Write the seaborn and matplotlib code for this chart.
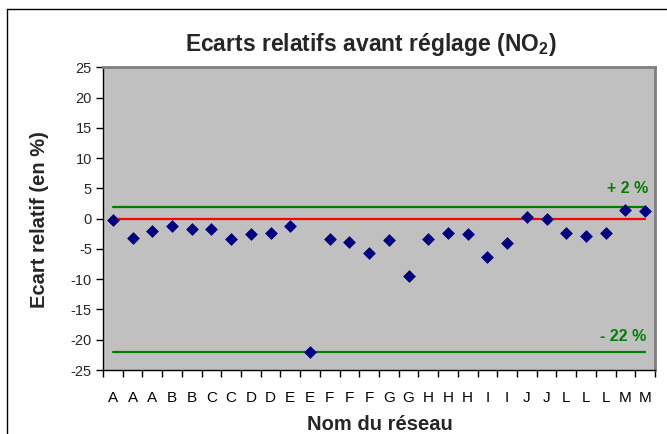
import matplotlib
matplotlib.use("Agg")
import matplotlib.pyplot as plt
import seaborn as sns
import pandas as pd
from matplotlib.lines import Line2D

# ---- data ----
networks = ["A", "A", "A", "B", "B", "C", "C", "D", "D", "E", "E", "F", "F", "F",
            "G", "G", "H", "H", "H", "I", "I", "J", "J", "L", "L", "L", "M", "M"]
ecarts = [-0.3, -3.2, -2.0, -1.2, -1.7, -1.7, -3.4, -2.6, -2.4, -1.2, -22.0, -3.4, -3.8, -5.6,
          -3.6, -9.5, -3.4, -2.4, -2.6, -6.3, -4.1, 0.2, 0.0, -2.4, -2.9, -2.4, 1.5, 1.2]
upper_limit = 2
lower_limit = -22
reference = 0
y_ticks = [-25, -20, -15, -10, -5, 0, 5, 10, 15, 20, 25]

sns.set_theme(style="white")
plt.rcParams["font.family"] = ["Liberation Sans", "DejaVu Sans"]
plt.rcParams["mathtext.fontset"] = "custom"
plt.rcParams["mathtext.rm"] = "Liberation Sans"
plt.rcParams["mathtext.bf"] = "Liberation Sans:bold"

pos = list(range(len(networks)))
df = pd.DataFrame({"pos": pos, "ecart": ecarts,
                   "zero": [reference] * len(pos),
                   "up": [upper_limit] * len(pos),
                   "low": [lower_limit] * len(pos)})

fig = plt.figure(figsize=(6.67, 4.34), dpi=100)
fig.patch.set_facecolor("white")
ax = fig.add_axes([103 / 667, 1 - 370 / 434, (655 - 103) / 667, (370 - 67.3) / 434])
ax.set_facecolor("#C0C0C0")

sns.lineplot(data=df, x="pos", y="up", color="#008000", linewidth=1.6, ax=ax, zorder=2)
sns.lineplot(data=df, x="pos", y="low", color="#008000", linewidth=1.6, ax=ax, zorder=2)
sns.lineplot(data=df, x="pos", y="zero", color="#FF0000", linewidth=1.6, ax=ax, zorder=2)
sns.scatterplot(data=df, x="pos", y="ecart", marker="D", color="#000080", s=36,
                edgecolor="#000080", linewidth=0.5, ax=ax, zorder=3)

ax.set_xlim(-0.5, len(networks) - 0.5)
ax.set_ylim(-25, 25)
ax.set_yticks(y_ticks)
ax.set_yticklabels([str(v) for v in y_ticks], fontsize=10.5)
ax.set_xticks(pos)
ax.set_xticklabels(networks, fontsize=11)
ax.set_xticks([p - 0.5 for p in pos] + [len(networks) - 0.5], minor=True)
ax.tick_params(axis="x", which="major", length=0, pad=15, colors="black")
ax.tick_params(axis="x", which="minor", length=5, width=1, color="black", direction="out", bottom=True)
ax.tick_params(axis="y", which="major", length=5, width=1, color="black", direction="out", left=True, pad=3)
ax.set_xlabel("")
ax.set_ylabel("")
ax.grid(False)

for side in ["left", "bottom"]:
    ax.spines[side].set_color("black")
    ax.spines[side].set_linewidth(1)
for side in ["top", "right"]:
    ax.spines[side].set_color("#808080")
    ax.spines[side].set_linewidth(2)

ax.text(27.15, 5.0, "+ 2 %", color="#008000", fontsize=11.5, fontweight="bold",
        ha="right", va="center")
ax.text(27.05, -19.5, "- 22 %", color="#008000", fontsize=11.5, fontweight="bold",
        ha="right", va="center")

fig.text(0.556, 1 - 44 / 434, "Ecarts relatifs avant réglage (NO$_\\mathbf{2}$)",
         fontsize=16.5, fontweight="bold", ha="center", va="center")
fig.text(40 / 667, 1 - 220 / 434, "Ecart relatif (en %)", fontsize=14.5, fontweight="bold",
         rotation=90, ha="center", va="center")
fig.text(380 / 667, 1 - 424 / 434, "Nom du réseau", fontsize=14.5, fontweight="bold",
         ha="center", va="center")

# outer chart frame (top and left visible)
fig.add_artist(Line2D([7 / 667, 7 / 667], [0, 1 - 9 / 434], transform=fig.transFigure,
                      color="black", linewidth=1))
fig.add_artist(Line2D([7 / 667, 1], [1 - 9 / 434, 1 - 9 / 434], transform=fig.transFigure,
                      color="black", linewidth=1))

fig.savefig("out.png", dpi=100)
